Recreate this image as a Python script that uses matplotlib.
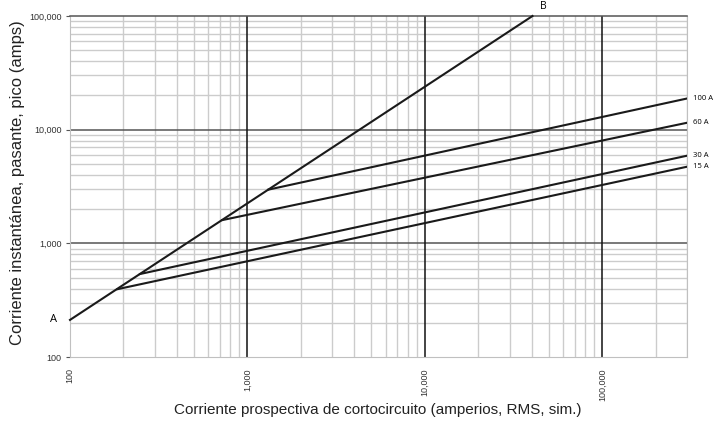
import numpy as np
import matplotlib.pyplot as plt
from matplotlib.ticker import LogLocator, NullFormatter

# available line A-B (prospective -> peak)
ab_x = [100, 40400]
ab_y = [212, 100000]

# fuse let-through lines: knee on A-B, end at right edge
fuses = ["100 A", "60 A", "30 A", "15 A"]
fuse_x0 = [1310, 720, 248, 185]
fuse_y0 = [2965, 1600, 537, 395]
fuse_x1 = [300000, 300000, 300000, 300000]
fuse_y1 = [18800, 11500, 5900, 4720]

xticks = [100, 1000, 10000, 100000]
xtick_labels = ["100", "1,000", "10,000", "100,000"]
yticks = [100, 1000, 10000, 100000]
ytick_labels = ["100", "1,000", "10,000", "100,000"]

plt.rcParams['font.family'] = ['Liberation Sans', 'DejaVu Sans']

fig = plt.figure(figsize=(7.16, 4.23), dpi=100)
ax = fig.add_axes([70/716, 1-357/423, (687-70)/716, (357-16)/423])
ax.set_xscale('log')
ax.set_yscale('log')
ax.set_xlim(100, 300000)
ax.set_ylim(100, 100000)

# grid
ax.xaxis.set_minor_locator(LogLocator(base=10, subs=np.arange(2, 10)))
ax.yaxis.set_minor_locator(LogLocator(base=10, subs=np.arange(2, 10)))
ax.xaxis.set_minor_formatter(NullFormatter())
ax.yaxis.set_minor_formatter(NullFormatter())
ax.grid(which='minor', color='#cccccc', lw=1.0, zorder=1)
for v in [1000, 10000, 100000]:
    ax.axvline(v, color='#111111', lw=1.1, zorder=2.5)
for v in [1000, 10000]:
    ax.axhline(v, color='#555555', lw=1.1, zorder=2.2)

for s in ['left', 'bottom', 'right']:
    ax.spines[s].set_color('#c0c0c0')
ax.spines['top'].set_color('#555555')
ax.spines['top'].set_linewidth(1.1)

ax.set_xticks(xticks)
ax.set_xticklabels(xtick_labels, rotation=90, fontsize=6.5, color='#333333')
ax.set_yticks(yticks)
ax.set_yticklabels(ytick_labels, fontsize=6.5, color='#333333')
ax.tick_params(which='major', length=3, color='#555555', pad=3)
ax.tick_params(axis='x', which='major', length=0, pad=8)
ax.tick_params(which='minor', length=0)

# curves
lc = '#1a1a1a'
ax.plot(ab_x, ab_y, color=lc, lw=1.5, zorder=3, clip_on=False)
for name, x0, y0, x1, y1 in zip(fuses, fuse_x0, fuse_y0, fuse_x1, fuse_y1):
    ax.plot([x0, x1], [y0, y1], color=lc, lw=1.5, zorder=3)
    ax.text(x1 * 1.08, y1, name, fontsize=5.5, va='center', ha='left',
            family=['Open Sans', 'DejaVu Sans'], clip_on=False)

ax.annotate("A", (ab_x[0], ab_y[0]), xytext=(-12, 0), textcoords='offset points',
            fontsize=8, va='center', ha='center', family=['Open Sans', 'DejaVu Sans'])
ax.annotate("B", (ab_x[1], 100000), xytext=(8, 7), textcoords='offset points',
            fontsize=7.5, va='center', ha='center', family=['Open Sans', 'DejaVu Sans'],
            annotation_clip=False)

fig.text(378/716, 1-410/423,
         "Corriente prospectiva de cortocircuito (amperios, RMS, sim.)",
         fontsize=11, color='#222222', ha='center', va='center')
fig.text(18/716, 1-183/423, "Corriente instantánea, pasante, pico (amps)",
         fontsize=12, color='#222222', ha='center', va='center', rotation=90)

fig.savefig("out.png", dpi=100)
